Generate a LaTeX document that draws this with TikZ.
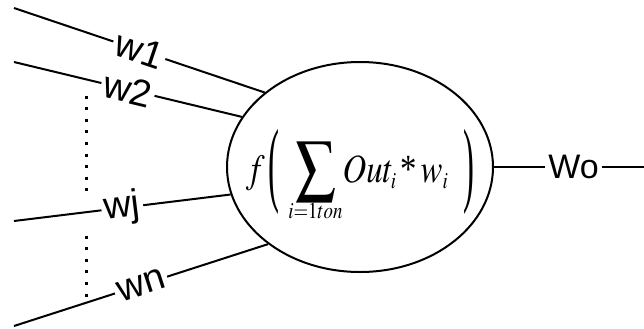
\documentclass[tikz,border=0pt]{standalone}
\usepackage{mathptmx}
\usepackage{graphicx}
\usepackage{fontspec}
\newfontfamily\labfont{Liberation Sans}
\newfontfamily\serfont{Liberation Serif}
\newcommand\tallparen[1]{\vcenter{\hbox{\scalebox{1}[2.35]{\serfont #1}}}}
\newcommand\smallsub[1]{\mbox{\fontsize{11.5}{11.5}\selectfont$#1$}}
\newcommand\bigsum{\mathop{\vcenter{\hbox{\scalebox{1.75}{$\sum$}}}}}
\usetikzlibrary{shapes.geometric}

\begin{document}
\begin{tikzpicture}[x=0.5pt,y=-0.5pt,
 neu/.style={draw,ellipse,line width=1pt,minimum width=133pt,minimum height=105pt,inner sep=0pt},
 wlab/.style={fill=white,inner sep=1.5pt,font=\labfont\fontsize{19}{19}\selectfont},
 link/.style={line width=1pt},
 dots/.style={line width=1.5pt,dash pattern=on 1.5pt off 4.3pt}]
\useasboundingbox[fill=white] (0,0) rectangle (644,328);
\node[neu] (neuron) at (360,167) {};
\node[inner sep=0pt,anchor=base] (sum) at (360,182)
 {\fontsize{20}{24}\selectfont\scalebox{0.82}[1]{$f\mkern2mu\tallparen{(}\mkern3mu\bigsum\limits_{\raisebox{3.5pt}[\height][\depth]{\smallsub{i{=}1ton}}}\mkern-2mu Out_{\smallsub{i}}\,\mbox{\serfont*}\,w_{\smallsub{i}}\mkern8mu\tallparen{)}$}};
\coordinate (in1) at (14,8);
\coordinate (in2) at (14,62);
\coordinate (inj) at (14,221);
\coordinate (inn) at (14,326);
\coordinate (out) at (644,167);
\draw[link] (in1) -- node[wlab,sloped] (w1) {w1} (neuron.142);
\draw[link] (in2) -- node[wlab,sloped] (w2) {w2} (neuron.157);
\draw[link] (inj) -- node[wlab,sloped] (wj) {wj} (neuron.192);
\draw[link] (inn) -- node[wlab,sloped] (wn) {wn} (neuron.220);
\draw[link] (neuron.east) -- node[wlab,pos=.53,font=\labfont\fontsize{17}{17}\selectfont] (wo) {Wo} (out);
\draw[dots] (86,95.5) -- (86,193);
\draw[dots] (86,235.5) -- (86,298);
\end{tikzpicture}
\end{document}
